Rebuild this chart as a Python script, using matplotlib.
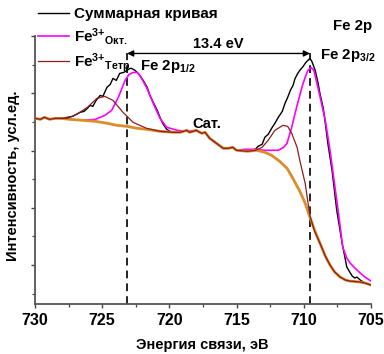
import matplotlib
matplotlib.use("Agg")
import matplotlib.pyplot as plt
from matplotlib.ticker import FixedLocator

plt.rcParams['font.family'] = ['Liberation Sans', 'DejaVu Sans']
plt.rcParams['font.weight'] = 'bold'
plt.rcParams['mathtext.fontset'] = 'custom'
plt.rcParams['mathtext.rm'] = 'Liberation Sans:bold'
plt.rcParams['mathtext.it'] = 'Liberation Sans:bold'
plt.rcParams['mathtext.bf'] = 'Liberation Sans:bold'
plt.rcParams['mathtext.default'] = 'rm'

# ---------------- data ----------------
# background (Shirley-like), orange
bg_e = [730.0, 729.6, 729.3, 728.9, 728.5, 728.1, 727.4, 726.4, 725.5, 724.6,
        723.9, 723.15, 722.4, 721.7, 720.7, 719.7, 719.2, 718.7, 718.5, 718.0,
        717.6, 717.35, 717.0, 716.5, 716.0, 715.6, 715.3, 715.0, 714.2, 713.5,
        712.9, 712.4, 711.8, 711.25, 710.9, 710.3, 709.9, 709.54, 709.2, 708.8,
        708.4, 708.05, 707.7, 707.3, 706.9, 706.6, 705.8, 705.45, 705.0]
bg_i = [186, 185, 187, 185, 186, 186, 185, 184, 183, 181,
        179, 178, 176, 175, 173, 172, 172, 174, 172, 174,
        171, 172, 166, 161, 156, 156, 157, 154, 153, 154,
        152, 149, 143, 136, 128, 113, 101, 87, 74, 61,
        48, 39, 32, 27, 24, 23, 22, 21, 19]

# Fe3+ tetrahedral component (with background)
tet_e = [730.0, 729.6, 729.3, 728.9, 728.5, 728.1, 727.6, 726.9, 726.1, 725.4,
         724.8, 724.2, 723.45, 722.7, 721.7, 720.7, 719.7, 719.2, 718.7, 718.5,
         718.0, 717.6, 717.35, 717.0, 716.5, 716.0, 715.6, 715.3, 715.0, 714.2,
         713.6, 713.1, 712.65, 712.15, 711.55, 711.2, 710.9, 710.5, 710.3, 709.9,
         709.54, 709.2, 708.8, 708.4, 708.05, 707.7, 707.3, 706.9, 706.6, 705.8,
         705.45, 705.0]
tet_i = [186, 185, 187, 185, 186, 186, 186, 190, 197, 206,
         208, 204, 192, 182, 176, 173, 172, 172, 174, 172,
         174, 171, 172, 166, 161, 156, 156, 157, 154, 153,
         154, 157, 164, 174, 179, 178, 171, 157, 144, 121,
         88, 73, 61, 48, 39, 32, 27, 24, 23, 22,
         21, 19]

# Fe3+ octahedral component (with background)
oct_e = [730.0, 729.6, 729.3, 728.9, 728.5, 728.1, 727.4, 726.4, 725.5, 724.8,
         724.3, 723.8, 723.3, 723.0, 722.7, 722.4, 722.2, 721.7, 721.2, 720.7,
         720.2, 719.4, 718.7, 718.0, 717.6, 717.35, 717.0, 716.5, 716.0, 715.6,
         715.3, 715.0, 714.4, 713.6, 712.9, 712.4, 711.9, 711.5, 711.25, 710.9,
         710.65, 710.4, 710.1, 709.9, 709.7, 709.46, 709.25, 708.95, 708.65, 708.4,
         708.05, 707.85, 707.45, 707.1, 706.8, 706.55, 706.2, 705.8, 705.45, 705.0]
oct_i = [186, 185, 187, 185, 186, 186, 185, 184, 185, 189,
         194, 207, 224, 230, 232, 232, 229, 217, 201, 186,
         177, 174, 173, 174, 171, 172, 166, 161, 156, 156,
         157, 154, 155, 155, 154, 154, 154, 157, 161, 177,
         191, 204, 219, 227, 234, 237, 234, 217, 199, 184,
         154, 134, 94, 57, 46, 41, 36, 31, 27, 23]

# summary (experimental) curve
sum_e = [730.0, 729.6, 729.3, 728.9, 728.5, 728.1, 727.6, 727.2, 726.65, 726.35,
         726.1, 725.9, 725.7, 725.45, 725.15, 724.95, 724.65, 724.4, 724.2, 723.95,
         723.7, 723.4, 723.15, 722.95, 722.8, 722.55, 722.4, 722.2, 721.95, 721.65,
         721.45, 721.2, 720.9, 720.7, 720.5, 720.2, 719.95, 719.7, 719.2, 718.7,
         718.5, 718.0, 717.6, 717.35, 717.0, 716.5, 716.0, 715.6, 715.3, 715.0,
         714.2, 714.0, 713.6, 713.4, 713.1, 712.9, 712.65, 712.35, 712.15, 711.9,
         711.6, 711.4, 711.2, 711.0, 710.8, 710.65, 710.45, 710.3, 710.05, 709.85,
         709.7, 709.54, 709.4, 709.15, 708.95, 708.8, 708.55, 708.4, 708.2, 707.9,
         707.55, 707.15, 706.8, 706.4, 706.2, 706.05, 705.8, 705.45, 705.0]
sum_i = [186, 185, 187, 185, 186, 186, 187, 188, 192, 193,
         196, 199, 198, 204, 209, 208, 217, 220, 226, 224,
         231, 232, 234, 236, 236, 234, 232, 229, 224, 217,
         209, 202, 194, 187, 181, 175, 173, 172, 172, 174,
         172, 174, 171, 172, 166, 161, 156, 156, 157, 154,
         153, 154, 155, 158, 160, 167, 170, 177, 181, 187,
         193, 201, 207, 214, 219, 226, 231, 234, 238, 242,
         244, 246, 243, 234, 222, 211, 196, 181, 160, 134,
         94, 61, 37, 28, 26, 27, 24, 21, 19]

ticks_x = [730, 725, 720, 715, 710, 705]
peak_half = 723.15     # Fe 2p1/2 position
peak_3half = 709.54    # Fe 2p3/2 position

# ---------------- figure ----------------
W, H = 384, 354
fig = plt.figure(figsize=(W / 100, H / 100), dpi=100)
ax = fig.add_axes([35 / W, 1 - 304 / H, 336 / W, 268 / H])

c_orange = '#DC8C2A'
c_brown = '#8B1E1E'
c_mag = '#FF00FF'

# dashed guides and arrow
ax.plot([peak_half, peak_half], [0, 251], ls=(0, (4, 2.6)), color='#222222', lw=1.4, zorder=1)
ax.plot([peak_3half, peak_3half], [0, 251], ls=(0, (4, 2.6)), color='#222222', lw=1.4, zorder=1)
ax.annotate('', xy=(peak_3half, 251), xytext=(peak_half, 251),
            arrowprops=dict(arrowstyle='<|-|>', color='black', lw=1.0,
                            mutation_scale=9, shrinkA=0, shrinkB=0), zorder=2)

l_sum, = ax.plot(sum_e, sum_i, color='black', lw=1.0, zorder=3)
l_oct, = ax.plot(oct_e, oct_i, color=c_mag, lw=1.2, zorder=4)
ax.plot(bg_e, bg_i, color=c_orange, lw=2.0, zorder=5)
l_tet, = ax.plot(tet_e, tet_i, color=c_brown, lw=0.9, zorder=6)

ax.set_xlim(730, 705)
ax.set_ylim(0, 268.5)

ax.xaxis.set_major_locator(FixedLocator(ticks_x))
ax.xaxis.set_minor_locator(FixedLocator([727.5, 722.5, 717.5, 712.5, 707.5]))
ax.yaxis.set_major_locator(FixedLocator([39, 96.3, 153.6, 210.9, 268.2]))
ax.yaxis.set_minor_locator(FixedLocator([10.4, 67.7, 125, 182.3, 239.6]))
ax.set_yticklabels([])
ax.tick_params(axis='both', which='major', direction='out', length=3.2, width=1.0,
               color='#444444', labelsize=11.5, pad=3.5)
ax.tick_params(axis='both', which='minor', direction='out', length=2.0, width=0.9,
               color='#444444')
for lab in ax.get_xticklabels():
    lab.set_fontweight('bold')

for s in ['top', 'right']:
    ax.spines[s].set_visible(False)
for s in ['left', 'bottom']:
    ax.spines[s].set_color('#555555')
    ax.spines[s].set_linewidth(1.3)

ax.set_xlabel('Энергия связи, эВ', fontsize=10.5, fontweight='bold')
ax.xaxis.set_label_coords(0.497, -0.125)
ax.set_ylabel('Интенсивность, усл.ед.', fontsize=10.5, fontweight='bold')
ax.yaxis.set_label_coords(-0.045, 0.48)

# annotations
ax.text(718.24, 256, '13.4 eV', fontsize=10.5, fontweight='bold', ha='left', va='baseline')
ax.text(707.83, 274.5, 'Fe 2p', fontsize=10.8, fontweight='bold', ha='left', va='baseline', clip_on=False)
ax.text(708.8, 245, 'Fe 2p$_{3/2}$', fontsize=10.8, fontweight='bold', ha='left', va='baseline')
ax.text(722.19, 234, 'Fe 2p$_{1/2}$', fontsize=10.8, fontweight='bold', ha='left', va='baseline')
ax.text(718.32, 176, 'Сат.', fontsize=10.5, fontweight='bold', ha='left', va='baseline')

leg = ax.legend([l_sum, l_oct, l_tet],
                ['Суммарная кривая', 'Fe$^{3{+}}$$_{Окт.}$', 'Fe$^{3{+}}$$_{Тетр.}$'],
                loc='upper left', bbox_to_anchor=(38 / W, 1 - 7 / H),
                bbox_transform=fig.transFigure, frameon=False,
                prop=dict(family=['Liberation Sans', 'DejaVu Sans'], weight='bold', size=11),
                handlelength=2.0, handletextpad=0.35, borderpad=0, borderaxespad=0,
                labelspacing=0.3)

fig.savefig('out.png', dpi=100)
